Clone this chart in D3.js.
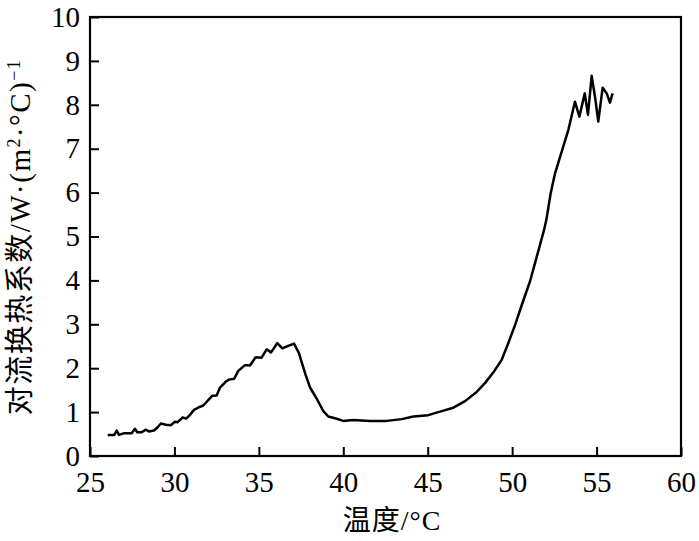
<!DOCTYPE html>
<html><head><meta charset="utf-8">
<script src="https://cdn.jsdelivr.net/npm/d3@7/dist/d3.min.js"></script>
<style>body{margin:0;background:#fff}svg{display:block}</style>
</head><body>
<script>
const temps = [26.05,26.44,26.58,26.72,27.03,27.47,27.66,27.80,28.06,28.29,28.49,28.79,28.99,29.20,29.50,29.78,30.03,30.19,30.49,30.69,30.88,31.16,31.45,31.71,32.07,32.24,32.50,32.70,33.03,33.23,33.54,33.78,34.18,34.47,34.81,35.16,35.46,35.72,36.09,36.39,36.74,37.08,37.38,37.59,37.77,38.03,38.42,38.82,39.11,39.51,40.00,40.59,41.58,42.57,43.46,44.15,45.03,45.73,46.52,47.21,47.90,48.39,48.88,49.38,49.77,50.17,50.57,51.06,51.50,51.89,52.04,52.28,52.54,52.93,53.33,53.72,53.98,54.30,54.49,54.71,54.92,55.10,55.36,55.60,55.79,55.95];
const coeffs = [0.48,0.48,0.58,0.48,0.52,0.52,0.62,0.54,0.54,0.60,0.56,0.58,0.65,0.74,0.71,0.70,0.78,0.77,0.88,0.85,0.92,1.05,1.11,1.15,1.30,1.37,1.38,1.56,1.69,1.74,1.76,1.94,2.07,2.06,2.25,2.24,2.43,2.36,2.57,2.45,2.51,2.56,2.34,2.07,1.85,1.56,1.31,1.02,0.90,0.86,0.80,0.82,0.80,0.80,0.84,0.90,0.93,1.01,1.10,1.25,1.46,1.66,1.90,2.19,2.57,2.98,3.44,3.98,4.60,5.15,5.41,5.98,6.44,6.93,7.43,8.07,7.73,8.26,7.77,8.66,8.15,7.62,8.39,8.26,8.05,8.26];
const xTicks = [25,30,35,40,45,50,55,60];
const yTicks = [0,1,2,3,4,5,6,7,8,9,10];
const xTitle = "温度/°C";

const W = 699, H = 541;
const L = 90, R = 681, T = 17, B = 456;
const font = "'Liberation Serif','Times New Roman','Noto Sans CJK SC',serif";

const svg = d3.select("body").append("svg").attr("width", W).attr("height", H);
const x = d3.scaleLinear().domain([25,60]).range([L,R]);
const y = d3.scaleLinear().domain([0,10]).range([B,T]);

const data = temps.map((t,i)=>({t, c: coeffs[i]}));

svg.append("g").attr("transform",`translate(0,${B})`)
  .call(d3.axisBottom(x).tickValues(xTicks).tickSize(-9).tickPadding(15).tickFormat(d3.format("d")))
  .call(g=>{g.select(".domain").remove();
    g.selectAll("line").attr("stroke","#000").attr("stroke-width",2);
    g.selectAll("text").attr("font-family",font).attr("font-size",29).attr("fill","#000");});

svg.append("g").attr("transform",`translate(${L},0)`)
  .call(d3.axisLeft(y).tickValues(yTicks).tickSize(-9).tickPadding(10).tickFormat(d3.format("d")))
  .call(g=>{g.select(".domain").remove();
    g.selectAll("line").attr("stroke","#000").attr("stroke-width",2);
    g.selectAll("text").attr("font-family",font).attr("font-size",29).attr("fill","#000");});

svg.append("rect").attr("x",L).attr("y",T).attr("width",R-L).attr("height",B-T)
  .attr("fill","none").attr("stroke","#000").attr("stroke-width",2.2);

svg.append("path").datum(data)
  .attr("d", d3.line().x(d=>x(d.t)).y(d=>y(d.c)))
  .attr("fill","none").attr("stroke","#000").attr("stroke-width",2.5).attr("stroke-linejoin","round");

svg.append("text").attr("x",392).attr("y",530).attr("text-anchor","middle")
  .attr("font-family",font).attr("font-size",28).attr("letter-spacing",1).text(xTitle);

const yt = svg.append("text").attr("transform",`translate(30,237) rotate(-90)`)
  .attr("text-anchor","middle").attr("font-family",font).attr("font-size",29).attr("letter-spacing",1.5);
yt.append("tspan").text("对流换热系数/W·(m");
yt.append("tspan").attr("baseline-shift","super").attr("font-size",18).text("2");
yt.append("tspan").text("·°C)");
yt.append("tspan").attr("baseline-shift","super").attr("font-size",18).text("−1");
</script>
</body></html>
